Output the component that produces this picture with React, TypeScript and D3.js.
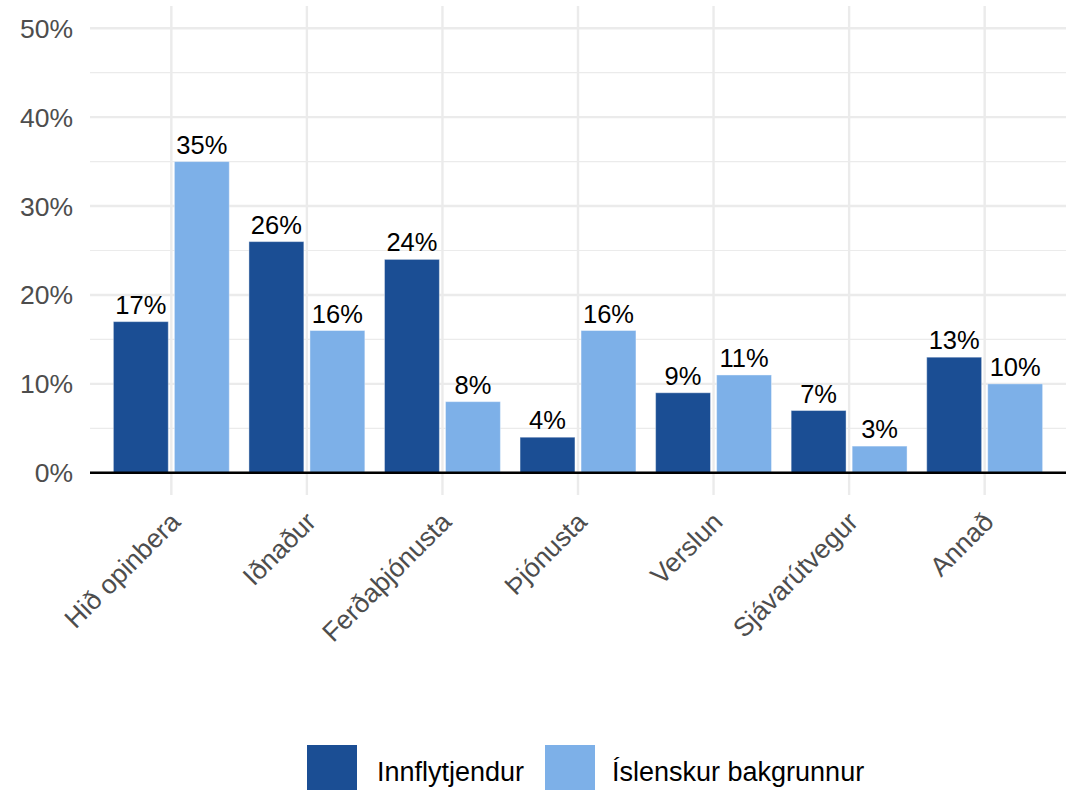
import React from "react";
import * as d3 from "d3";

const categories = ["Hið opinbera", "Iðnaður", "Ferðaþjónusta", "Þjónusta", "Verslun", "Sjávarútvegur", "Annað"];
const seriesNames = ["Innflytjendur", "Íslenskur bakgrunnur"];
const innflytjendur = [17, 26, 24, 4, 9, 7, 13];
const islenskur = [35, 16, 8, 16, 11, 3, 10];
const yTicks = [0, 10, 20, 30, 40, 50];
const yMinor = [5, 15, 25, 35, 45];
const colors = ["#1b4e94", "#7db0e8"];

const W = 1068;
const H = 790;
const left = 90;
const right = 1066;
const top = 6;
const bottom = 495;
const font = "'Liberation Sans', Arial, sans-serif";

export default function App() {
  const step = (right - left) / (categories.length - 1 + 1.2);
  const x = d3
    .scalePoint<string>()
    .domain(categories)
    .range([left + 0.6 * step, right - 0.6 * step]);
  const y = d3.scaleLinear().domain([-2.5, 52.5]).range([bottom, top]);
  const slot = (0.9 * step) / 2;
  const bw = slot * 0.9;
  const series = [innflytjendur, islenskur];

  return (
    <svg width={W} height={H} style={{ position: "absolute", left: 0, top: 0, background: "#fff" }} fontFamily={font}>
      {yMinor.map((t) => (
        <line key={"m" + t} x1={left} x2={right} y1={y(t)} y2={y(t)} stroke="#ebebeb" strokeWidth={1.2} />
      ))}
      {yTicks.map((t) => (
        <line key={"g" + t} x1={left} x2={right} y1={y(t)} y2={y(t)} stroke="#ebebeb" strokeWidth={2.4} />
      ))}
      {categories.map((c) => (
        <line key={"v" + c} x1={x(c)} x2={x(c)} y1={top} y2={bottom} stroke="#ebebeb" strokeWidth={2.4} />
      ))}
      {series.map((vals, si) =>
        vals.map((v, i) => {
          const cx = (x(categories[i]) as number) + (si === 0 ? -slot / 2 : slot / 2);
          return (
            <g key={si + "-" + i}>
              <rect
                x={cx - bw / 2}
                y={y(v)}
                width={bw}
                height={y(0) - y(v)}
                fill={colors[si]}
                stroke="#ffffff"
                strokeOpacity={0.4}
                strokeWidth={1}
              />
              <text x={cx} y={y(v) - 8} textAnchor="middle" fontSize={25.5} fill="#000">
                {v}%
              </text>
            </g>
          );
        })
      )}
      <line x1={left} x2={right} y1={y(0)} y2={y(0)} stroke="#000" strokeWidth={2.5} />
      {yTicks.map((t) => (
        <text key={"yl" + t} x={73} y={y(t)} dy="0.36em" textAnchor="end" fontSize={26.5} fill="#4d4d4d">
          {t}%
        </text>
      ))}
      {categories.map((c) => (
        <text
          key={"xl" + c}
          transform={`translate(${(x(c) as number) - 3},${510}) rotate(-45)`}
          textAnchor="end"
          dy="0.72em"
          fontSize={26.5}
          fill="#4d4d4d"
        >
          {c}
        </text>
      ))}
      <g>
        <rect x={307} y={745} width={50} height={50} fill={colors[0]} />
        <text x={377} y={781} fontSize={27} fill="#000">{seriesNames[0]}</text>
        <rect x={545} y={745} width={50} height={50} fill={colors[1]} />
        <text x={612} y={781} fontSize={27} fill="#000">{seriesNames[1]}</text>
      </g>
    </svg>
  );
}
